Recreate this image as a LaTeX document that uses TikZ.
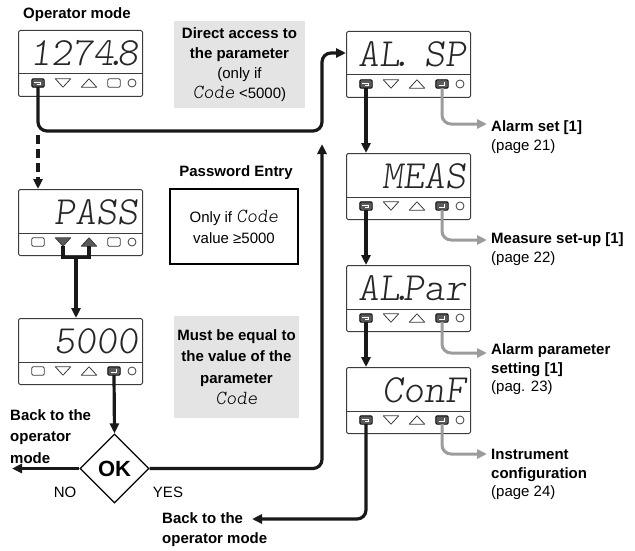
\documentclass[tikz,border=0pt]{standalone}
\usepackage{fontspec}
\setmainfont{Liberation Sans}
\newfontfamily\segfont{lmmonolt10-regular.otf}[FakeSlant=0.12]
\usetikzlibrary{arrows.meta,shapes.geometric,calc}
\definecolor{keygray}{HTML}{5A5A5A}
\definecolor{framegray}{HTML}{3C3C3C}
\definecolor{boxgray}{HTML}{E4E4E4}
\definecolor{arrgray}{HTML}{9C9C9C}
\newcommand\segcode{{\segfont\fontsize{20}{20}\selectfont Code}}
\tikzset{
  dispbox/.style={draw=framegray, line width=1pt, rounded corners=1.5pt, minimum width=124pt, minimum height=66pt, inner sep=0pt, fill=white},
  divline/.style={draw=framegray, line width=1pt},
  segtext/.style={font=\segfont\fontsize{40}{40}\selectfont, inner sep=0pt, text=black!85},
  keyS/.style={inner sep=0pt, minimum width=12pt, minimum height=8pt},
  keyW/.style={inner sep=0pt, minimum width=15pt, minimum height=8pt},
  keyCyc/.style={keyS}, keyEnt/.style={keyS}, keyRct/.style={keyS},
  keyDn/.style={keyW}, keyUp/.style={keyW}, keyDnF/.style={keyW}, keyUpF/.style={keyW},
  keyCir/.style={circle, draw=framegray, line width=0.8pt, minimum size=8pt, inner sep=0pt},
  keyline/.style={draw=framegray, line width=0.8pt, line join=round},
  keyfill/.style={draw=black, fill=keygray, line width=0.9pt, rounded corners=1.2pt},
  keyicon/.style={draw=white, line width=0.8pt},
  flow/.style={draw=black!90, line width=3.2pt},
  flowarrow/.style={flow, -{Triangle[length=10pt,width=9pt]}},
  grayarrow/.style={draw=arrgray, line width=3pt, -{Triangle[length=10pt,width=9pt]}},
  lbl/.style={inner sep=0pt, align=left, font=\fontsize{15}{18.5}\selectfont},
  bold/.style={font=\bfseries\fontsize{15}{18.5}\selectfont},
  graybox/.style={fill=boxgray, inner sep=0pt, align=center},
  blkbox/.style={draw=black, line width=1.8pt, inner sep=0pt, align=center},
  decision/.style={diamond, draw=black, line width=1.1pt, minimum width=69pt, minimum height=69pt, inner sep=0pt, aspect=1, font=\bfseries\fontsize{22}{22}\selectfont, fill=white},
}
\newcommand\kshCyc[1]{\draw[keyfill] (#1.north west) rectangle (#1.south east);
  \draw[keyicon] ($(#1.center)+(-3.6,-1)$) -- ($(#1.center)+(2.6,-1)$) -- ($(#1.center)+(2.6,1.4)$) -- ($(#1.center)+(-1.5,1.4)$);}
\newcommand\kshEnt[1]{\draw[keyfill] (#1.north west) rectangle (#1.south east);
  \draw[keyicon] ($(#1.center)+(2.8,-2.2)$) -- ($(#1.center)+(2.8,1)$) -- ($(#1.center)+(-3.4,1)$);}
\newcommand\kshRct[1]{\draw[keyline, rounded corners=1.2pt] (#1.north west) rectangle (#1.south east);}
\newcommand\kshDn[1]{\draw[keyline] (#1.north west) -- (#1.north east) -- (#1.south) -- cycle;}
\newcommand\kshUp[1]{\draw[keyline] (#1.south west) -- (#1.south east) -- (#1.north) -- cycle;}
\newcommand\kshDnF[1]{\draw[keyline, fill=keygray] (#1.north west) -- (#1.north east) -- (#1.south) -- cycle;}
\newcommand\kshUpF[1]{\draw[keyline, fill=keygray] (#1.south west) -- (#1.south east) -- (#1.north) -- cycle;}
\newcommand\dispunit[8]{%
  \node[dispbox, anchor=north west] (#1) at (#2,#3) {};
  \draw[divline] ($(#1.north west)+(0,44)$) -- ($(#1.north east)+(0,44)$);
  \node[segtext, anchor=east] (#1-t) at ($(#1.north east)+(-4,23)$) {#4};
  \node[key#5] (#1-k1) at ({#2+20},{#3+53}) {};\csname ksh#5\endcsname{#1-k1}%
  \node[key#6] (#1-k2) at ({#2+45},{#3+53}) {};\csname ksh#6\endcsname{#1-k2}%
  \node[key#7] (#1-k3) at ({#2+71},{#3+53}) {};\csname ksh#7\endcsname{#1-k3}%
  \node[key#8] (#1-k4) at ({#2+96},{#3+53}) {};\csname ksh#8\endcsname{#1-k4}%
  \node[keyCir] (#1-k5) at ({#2+114},{#3+53}) {};%
}
\begin{document}
\begin{tikzpicture}[x=1pt,y=-1pt]
\useasboundingbox (0,0) rectangle (635,551);
% displays
\dispunit{op}{18}{30}{1274\kern-9pt.\kern-9pt 8}{Cyc}{Dn}{Up}{Rct}
\dispunit{pass}{18}{189}{PASS}{Rct}{DnF}{UpF}{Rct}
\dispunit{code}{18}{318}{5000}{Rct}{Dn}{Up}{Ent}
\dispunit{alsp}{346}{31}{AL\kern-9pt.\kern-9pt\ SP}{Cyc}{Dn}{Up}{Ent}
\dispunit{meas}{346}{153}{MEAS}{Cyc}{Dn}{Up}{Ent}
\dispunit{alpar}{346}{265}{AL\kern-9pt.\kern-9pt Par}{Cyc}{Dn}{Up}{Ent}
\dispunit{conf}{346}{367}{ConF}{Cyc}{Dn}{Up}{Ent}
% texts
\node[lbl, bold] (t-op) at (77,15) {Operator mode};
\node[graybox, minimum width=131pt, minimum height=87pt, font=\fontsize{15}{20}\selectfont] (t-da) at (239.5,64.5)
  {\textbf{Direct access to}\\\textbf{the parameter}\\(only if\\\segcode\ <5000)};
\node[lbl, bold] (t-pw) at (236,173) {Password Entry};
\node[blkbox, minimum width=128pt, minimum height=75pt, font=\fontsize{15}{21}\selectfont] (t-pwbox) at (234,226.5)
  {Only if \segcode\\value ≥5000};
\node[graybox, minimum width=125pt, minimum height=102pt, font=\bfseries\fontsize{15}{21.5}\selectfont] (t-must) at (236.5,367)
  {Must be equal to\\the value of the\\parameter\\\mdseries\segcode};
\node[decision] (ok) at (114.5,468.5) {OK};
\node[lbl] (t-no) at (65,492) {NO};
\node[lbl] (t-yes) at (168,492) {YES};
\node[lbl, font=\bfseries\fontsize{15}{21.5}\selectfont, anchor=west] (t-back1) at (10,436.5) {Back to the\\operator\\mode};
\node[lbl, font=\bfseries\fontsize{15}{20}\selectfont, anchor=west] (t-back2) at (162,530) {Back to the\\operator mode};
\node[lbl, anchor=west] (t-r1) at (491,137) {\textbf{Alarm set [1]}\\(page 21)};
\node[lbl, anchor=west] (t-r2) at (491,249) {\textbf{Measure set-up [1]}\\(page 22)};
\node[lbl, anchor=west] (t-r3) at (491,369.5) {\textbf{Alarm parameter}\\\textbf{setting [1]}\\(pag. 23)};
\node[lbl, anchor=west] (t-r4) at (491,474.5) {\textbf{Instrument}\\\textbf{configuration}\\(page 24)};
% connectors
\coordinate (jn) at (op-k1 |- 0,131);
\coordinate (up1) at (322,131);
\coordinate (alspin) at ($(alsp.north west)+(0,22)$);
\draw[flowarrow, rounded corners=9pt] (op-k1.south) -- (jn) -- (up1) |- (alspin);
\draw[flowarrow, dash pattern=on 9pt off 5pt] ($(jn)+(0,4)$) -- (jn |- pass.north);
\coordinate (brk) at ($(pass-k2.south)!0.5!(pass-k3.south)+(0,11)$);
\draw[flow] (pass-k2.south) |- (brk) -| (pass-k3.south);
\draw[flowarrow] (brk) -- (brk |- code.north);
\draw[flowarrow] (code-k4.south) -- (ok.north);
\coordinate (noend) at (ok.west -| 12,0);
\draw[flowarrow] (ok.west) -- (noend);
\coordinate (yesend) at (322,144);
\draw[flowarrow, rounded corners=9pt] (ok.east) -| (yesend);
\draw[flowarrow] (alsp-k1.south) -- (alsp-k1.south |- meas.north);
\draw[flowarrow] (meas-k1.south) -- (meas-k1.south |- alpar.north);
\draw[flowarrow] (alpar-k1.south) -- (alpar-k1.south |- conf.north);
\coordinate (backend) at (252,519);
\draw[flowarrow, rounded corners=9pt] (conf-k1.south) |- (backend);
\coordinate (g1) at (487,124);
\coordinate (g2) at (487,240);
\coordinate (g3) at (487,353);
\coordinate (g4) at (487,454);
\draw[grayarrow, rounded corners=9pt] (alsp-k4.south) |- (g1);
\draw[grayarrow, rounded corners=9pt] (meas-k4.south) |- (g2);
\draw[grayarrow, rounded corners=9pt] (alpar-k4.south) |- (g3);
\draw[grayarrow, rounded corners=9pt] (conf-k4.south) |- (g4);
\end{tikzpicture}
\end{document}
